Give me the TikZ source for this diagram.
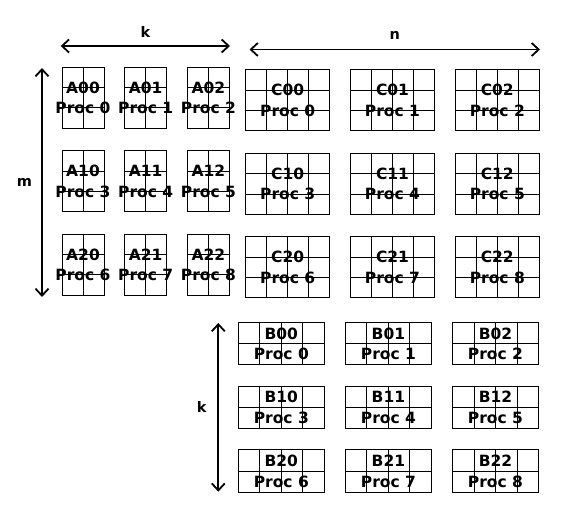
\documentclass[tikz,border=0pt]{standalone}
\usepackage{fontspec}
\setmainfont{DejaVu Sans}
\usetikzlibrary{calc,arrows.meta,positioning}

\tikzset{
  blk/.style n args={4}{draw, line width=1pt, inner sep=0pt,
    minimum width=#1, minimum height=#2,
    path picture={
      \foreach \i in {1,...,#3}
        \draw[line width=1pt] ($(path picture bounding box.south west)!\i/#3!(path picture bounding box.south east)$)
          -- ($(path picture bounding box.north west)!\i/#3!(path picture bounding box.north east)$);
      \foreach \j in {1,...,#4}
        \draw[line width=1pt] ($(path picture bounding box.south west)!\j/#4!(path picture bounding box.north west)$)
          -- ($(path picture bounding box.south east)!\j/#4!(path picture bounding box.north east)$);
    }},
  ablock/.style={blk={42pt}{61pt}{2}{3}},
  cblock/.style={blk={83.5pt}{61pt}{4}{3}},
  bblock/.style={blk={86pt}{42.5pt}{4}{2}},
  blocktext/.style={inner sep=0pt, align=center, font=\bfseries\fontsize{15.5}{20.5}\selectfont},
  dim/.style={line width=1.8pt, {Straight Barb[length=7pt,width=13pt]}-{Straight Barb[length=7pt,width=13pt]}},
  dimlabel/.style={inner sep=0pt, font=\bfseries\fontsize{14.5}{16}\selectfont}
}

\begin{document}
\begin{tikzpicture}[x=1pt,y=-1pt]
  \useasboundingbox (0,0) rectangle (566,532);

  % A, C and B blocks, one per processor
  \foreach \r in {0,1,2} {
    \foreach \c in {0,1,2} {
      \pgfmathtruncatemacro{\p}{3*\r+\c}
      \node[ablock, label={[blocktext]center:{A\r\c\\Proc \p}}] (A\r\c) at ({83+62.7*\c},{97.8+83.5*\r}) {};
      \node[cblock, label={[blocktext]center:{C\r\c\\Proc \p}}] (C\r\c) at ({287.7+104.8*\c},{100.5+83.5*\r}) {};
      \node[bblock, label={[blocktext]center:{B\r\c\\Proc \p}}] (B\r\c) at ({281.3+107.1*\c},{343.7+63.75*\r}) {};
    }
  }

  % dimensions
  \coordinate (kleft) at (60.7,46);
  \coordinate (kright) at (230,46);
  \coordinate (nleft) at (249.5,49.5);
  \coordinate (nright) at (540,49.5);
  \coordinate (mtop) at (42,68);
  \coordinate (mbot) at (42,297);
  \coordinate (kbtop) at (218.3,323);
  \coordinate (kbbot) at (218.3,491.7);

  \draw[dim] (kleft) -- (kright) node[dimlabel, midway, above=8pt] (klabel) {k};
  \draw[dim] (nleft) -- (nright) node[dimlabel, midway, above=9pt] (nlabel) {n};
  \draw[dim] (mtop) -- (mbot) node[dimlabel, midway, left=9pt] (mlabel) {m};
  \draw[dim] (kbtop) -- (kbbot) node[dimlabel, midway, left=11pt] (kblabel) {k};
\end{tikzpicture}
\end{document}
